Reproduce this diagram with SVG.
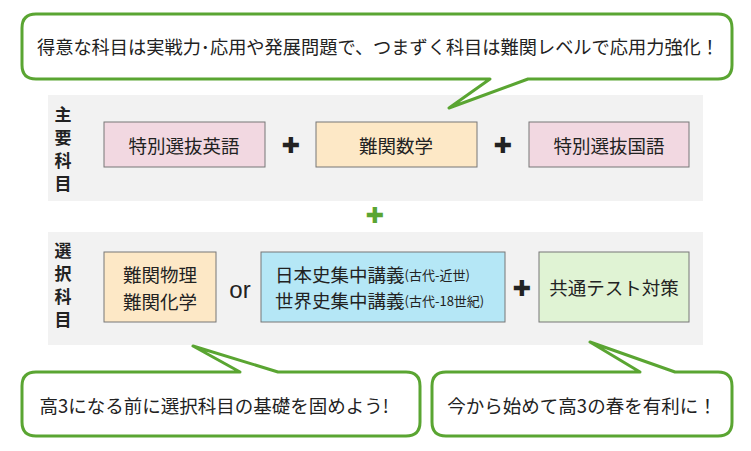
<svg xmlns="http://www.w3.org/2000/svg" width="751" height="451" viewBox="0 0 751 451">
<style>
text{font-family:"Noto Sans CJK JP","Noto Sans",sans-serif;fill:#222}
.bub{fill:#fff;stroke:#5aa532;stroke-width:3;stroke-linejoin:round}
.panel{fill:#f2f2f2}
.box{stroke:#777;stroke-width:1}
.t{font-size:18.5px;text-anchor:middle;dominant-baseline:central}
.lbl{font-size:17px;font-weight:bold;text-anchor:middle;dominant-baseline:central}
.plus{font-size:22px;font-weight:bold;text-anchor:middle;dominant-baseline:central;font-family:"DejaVu Sans",sans-serif}
</style>
<rect width="751" height="451" fill="#fff"/>
<g id="panel-main">
<rect class="panel" x="48" y="95" width="655" height="106"/>
<text class="lbl" x="63" y="113">主</text><text class="lbl" x="63" y="136">要</text><text class="lbl" x="63" y="159">科</text><text class="lbl" x="63" y="182">目</text>
</g>
<g id="panel-elective">
<rect class="panel" x="48" y="232" width="655" height="113"/>
<text class="lbl" x="63" y="249">選</text><text class="lbl" x="63" y="272">択</text><text class="lbl" x="63" y="295">科</text><text class="lbl" x="63" y="318">目</text>
</g>
<g id="bubble-top">
<path class="bub" d="M36,14 H718 Q732,14 732,28 V65 Q732,79 718,79 H528 L449,108 L490,79 H36 Q22,79 22,65 V28 Q22,14 36,14 Z"/>
<text class="t" x="378" y="46" textLength="682" lengthAdjust="spacingAndGlyphs">得意な科目は実戦力･応用や発展問題で、つまずく科目は難関レベルで応用力強化！</text>
</g>
<g id="english"><rect class="box" x="104" y="122" width="161" height="45" fill="#f2d8e1"/><text class="t" x="184" y="145">特別選抜英語</text></g>
<g id="math"><rect class="box" x="316" y="122" width="161" height="45" fill="#fde8c6"/><text class="t" x="396" y="145">難関数学</text></g>
<g id="japanese"><rect class="box" x="529" y="122" width="160" height="45" fill="#f2d8e1"/><text class="t" x="609" y="145">特別選抜国語</text></g>
<g id="science"><rect class="box" x="104" y="252" width="112" height="70" fill="#fde8c6"/><text class="t" x="160" y="274">難関物理</text><text class="t" x="160" y="301">難関化学</text></g>
<g id="history"><rect class="box" x="261" y="252" width="244" height="70" fill="#b5e7f6"/>
<text x="275" y="274" style="font-size:18.5px;dominant-baseline:central">日本史集中講義<tspan style="font-size:13px">(古代-近世)</tspan></text>
<text x="275" y="300" style="font-size:18.5px;dominant-baseline:central">世界史集中講義<tspan style="font-size:13px">(古代-18世紀)</tspan></text></g>
<g id="kyotsu"><rect class="box" x="539" y="252" width="150" height="70" fill="#e0f3d4"/><text class="t" x="614" y="287">共通テスト対策</text></g>
<g id="connectors">
<text class="plus" x="291" y="145">✚</text>
<text class="plus" x="503" y="145">✚</text>
<text class="plus" x="522" y="288">✚</text>
<text class="plus" x="375" y="215" style="fill:#5aa532">✚</text>
<text x="240" y="289" style="font-size:24px;text-anchor:middle;dominant-baseline:central;font-family:'Liberation Sans',sans-serif">or</text>
</g>
<g id="bubble-left">
<path class="bub" d="M36,372 H240 L193,346 L278,372 H406 Q420,372 420,386 V422 Q420,436 406,436 H36 Q22,436 22,422 V386 Q22,372 36,372 Z"/>
<text class="t" x="214" y="405">高3になる前に選択科目の基礎を固めよう!</text>
</g>
<g id="bubble-right">
<path class="bub" d="M446,372 H640 L590,342 L675,372 H718 Q732,372 732,386 V422 Q732,436 718,436 H446 Q432,436 432,422 V386 Q432,372 446,372 Z"/>
<text class="t" x="582" y="405">今から始めて高3の春を有利に！</text>
</g>
</svg>
